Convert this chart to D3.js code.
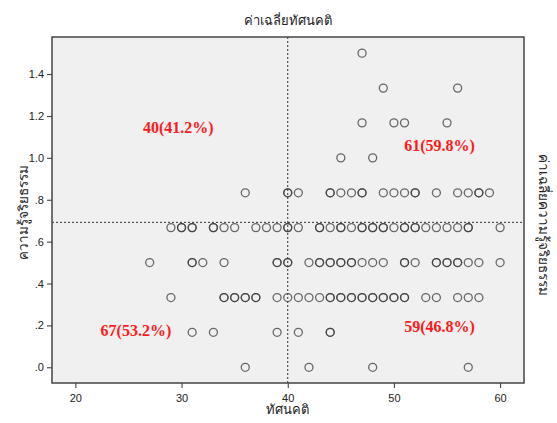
<!DOCTYPE html>
<html>
<head>
<meta charset="utf-8">
<script src="https://cdn.jsdelivr.net/npm/d3@7"></script>
<style>
  body { margin: 0; background: #fff; }
  text { font-family: Arial, "Liberation Sans", "Noto Sans", sans-serif; }
</style>
</head>
<body>
<svg width="557" height="423" id="mainsvg"></svg>
<script>
// x = attitude score, y = mean ethics knowledge; rows share the same y value
const rows = [
  {y: 1.5,   xs: [47]},
  {y: 1.333, xs: [49, 56]},
  {y: 1.167, xs: [47, 50, 51, 55]},
  {y: 1.0,   xs: [45, 48]},
  {y: 0.833, xs: [36, 40, 40, 41, 44, 44, 45, 46, 47, 47, 49, 50, 51, 52, 52, 54, 56, 57, 58, 58, 59]},
  {y: 0.667, xs: [29, 30, 30, 31, 31, 33, 33, 34, 35, 37, 38, 39, 40, 40, 41, 43, 43, 44, 45, 45, 46, 47, 47, 48, 48,
                  49, 49, 50, 51, 51, 52, 52, 53, 54, 55, 56, 57, 57, 60]},
  {y: 0.5,   xs: [27, 31, 31, 32, 34, 39, 39, 40, 40, 42, 43, 43, 44, 44, 45, 45, 46, 46, 47, 48, 49, 51, 51, 52,
                  54, 54, 55, 55, 56, 56, 57, 58, 60]},
  {y: 0.333, xs: [29, 34, 34, 35, 35, 36, 36, 37, 37, 39, 40, 41, 42, 43, 44, 44, 45, 45, 46, 46, 47, 47, 48, 48,
                  49, 49, 50, 50, 51, 51, 53, 54, 56, 57, 58]},
  {y: 0.167, xs: [31, 33, 39, 41, 44, 44]},
  {y: 0.0,   xs: [36, 42, 48, 57]}
];
const xTicks = [20, 30, 40, 50, 60];
const yTicks = [0, 0.2, 0.4, 0.6, 0.8, 1.0, 1.2, 1.4];
const meanX = 40;
const meanY = 0.692;
const quadLabels = [
  {x: 29.7, y: 1.147, text: '40(41.2%)'},
  {x: 54.3, y: 1.061, text: '61(59.8%)'},
  {x: 25.7, y: 0.178, text: '67(53.2%)'},
  {x: 54.3, y: 0.197, text: '59(46.8%)'}
];
const titleTop = 'ค่าเฉลี่ยทัศนคติ';
const titleBottom = 'ทัศนคติ';
const titleLeft = 'ความรู้จริยธรรม';
const titleRight = 'ค่าเฉลี่ยความรู้จริยธรรม';

const points = [];
rows.forEach(r => r.xs.forEach(x => points.push({x: x, y: r.y})));

const svg = d3.select('svg');
const margin = {top: 37, right: 33, bottom: 40, left: 52};
const innerWidth = 557 - margin.left - margin.right;
const innerHeight = 423 - margin.top - margin.bottom;
const g = svg.append('g').attr('transform', `translate(${margin.left}, ${margin.top})`);

const xScale = d3.scaleLinear().domain([17.8, 62.25]).range([0, innerWidth]);
const yScale = d3.scaleLinear().domain([-0.075, 1.577]).range([innerHeight, 0]);

// plot background
g.append('rect').attr('width', innerWidth).attr('height', innerHeight)
  .attr('fill', '#f0f0f0');

// axes
const xAxis = d3.axisBottom(xScale).tickValues(xTicks).tickSize(5).tickFormat(d3.format('d'));
const yAxis = d3.axisLeft(yScale).tickValues(yTicks).tickSize(5)
  .tickFormat(d => d3.format('.1f')(d).replace(/^0/, ''));
const gx = g.append('g').attr('transform', `translate(0, ${innerHeight})`).call(xAxis);
const gy = g.append('g').call(yAxis);
[gx, gy].forEach(a => {
  a.select('.domain').remove();
  a.selectAll('line').attr('stroke', '#333');
  a.selectAll('text').attr('font-size', 11).attr('fill', '#222');
});
gx.selectAll('text').attr('dy', '1em');

// reference lines at the means
g.append('line')
  .attr('x1', xScale(meanX)).attr('x2', xScale(meanX))
  .attr('y1', 0).attr('y2', innerHeight)
  .attr('stroke', '#333').attr('stroke-width', 1).attr('stroke-dasharray', '2,2');
g.append('line')
  .attr('x1', 0).attr('x2', innerWidth)
  .attr('y1', yScale(meanY)).attr('y2', yScale(meanY))
  .attr('stroke', '#333').attr('stroke-width', 1).attr('stroke-dasharray', '2,2');

// points
g.selectAll('.pt').data(points).join('circle')
  .attr('class', 'pt')
  .attr('cx', d => xScale(d.x)).attr('cy', d => yScale(d.y))
  .attr('r', 4)
  .attr('fill', 'none')
  .attr('stroke', '#3a3a3a')
  .attr('stroke-opacity', 0.75)
  .attr('stroke-width', 1.3);

// quadrant counts
g.selectAll('.ql').data(quadLabels).join('text')
  .attr('class', 'ql')
  .attr('x', d => xScale(d.x)).attr('y', d => yScale(d.y))
  .attr('text-anchor', 'middle').attr('dy', '0.35em')
  .attr('fill', '#ff1a1a').attr('font-weight', 'bold').attr('font-size', 16)
  .style('font-family', '"Liberation Serif", "Times New Roman", serif')
  .text(d => d.text);

// frame
g.append('rect').attr('width', innerWidth).attr('height', innerHeight)
  .attr('fill', 'none').attr('stroke', '#444').attr('stroke-width', 1.5);

// titles
svg.append('text').attr('x', margin.left + xScale(meanX)).attr('y', 25)
  .attr('text-anchor', 'middle').attr('font-size', 13).attr('fill', '#222')
  .text(titleTop);
svg.append('text').attr('x', margin.left + xScale(meanX)).attr('y', 414)
  .attr('text-anchor', 'middle').attr('font-size', 13).attr('fill', '#222')
  .text(titleBottom);
svg.append('text').attr('transform', 'translate(23, 212) rotate(-90)')
  .attr('text-anchor', 'middle').attr('dy', '0.35em')
  .attr('font-size', 13.5).attr('fill', '#222')
  .text(titleLeft);
svg.append('text').attr('transform', 'translate(544, 225) rotate(90)')
  .attr('text-anchor', 'middle').attr('dy', '0.35em')
  .attr('font-size', 13.5).attr('fill', '#222')
  .text(titleRight);
</script>
</body>
</html>
